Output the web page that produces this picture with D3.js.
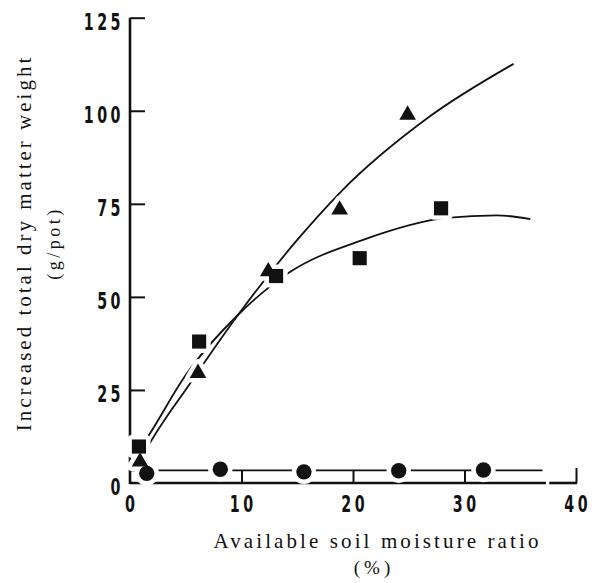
<!DOCTYPE html>
<html>
<head>
<meta charset="utf-8">
<script src="https://cdn.jsdelivr.net/npm/d3@7"></script>
<style>
  html, body { margin: 0; padding: 0; background: #fff; }
  svg { display: block; }
  .tick text { font-family: "DejaVu Sans", sans-serif; font-weight: bold; font-size: 23px; letter-spacing: 5.6px; fill: #111; }
  .title { font-family: "Liberation Serif", "DejaVu Serif", serif; fill: #111; }
</style>
</head>
<body>
<svg id="chart" width="592" height="583"></svg>
<script>
// ---- data ----
const xTicks = [0, 10, 20, 30, 40];
const yTicks = [0, 25, 50, 75, 100, 125];

// triangles
const triX = [0.9, 6.1, 12.4, 18.8, 24.9];
const triY = [5.7, 29.5, 56.8, 73.4, 98.9];
// squares
const sqX = [0.8, 6.2, 13.1, 20.6, 27.9];
const sqY = [9.8, 38.0, 55.6, 60.4, 73.8];
// circles
const cirX = [1.5, 8.1, 15.6, 24.1, 31.7];
const cirY = [2.6, 3.7, 3.0, 3.3, 3.5];

// fitted curves
const triFitX = [0.5, 1.35, 5.4, 9.7, 15.0, 18.8, 26.9, 34.4];
const triFitY = [3.5, 8.4, 26.8, 45.2, 65.3, 77.9, 98.5, 112.6];
const sqFitX = [0.5, 1.6, 5.0, 9.7, 14.2, 20.9, 28.4, 32.9, 35.9];
const sqFitY = [7.5, 12.4, 29.0, 45.2, 56.4, 65.3, 71.2, 71.9, 70.9];
const cirFitX = [0, 37];
const cirFitY = [3.4, 3.4];

const xTitle = "Available soil moisture ratio";
const xUnit = "(%)";
const yTitle = "Increased total dry matter weight";
const yUnit = "(g/pot)";

// ---- scales ----
const svg = d3.select("#chart");
const x = d3.scaleLinear().domain([0, 40]).range([130, 576]);
const y = d3.scaleLinear().domain([0, 125]).range([483, 17.7]);
const ink = "#111";
const squeeze = 0.62;

// ---- axes ----
const xAxis = d3.axisBottom(x).tickValues(xTicks).tickSizeInner(-12).tickSizeOuter(0).tickPadding(13);
const gx = svg.append("g").attr("transform", `translate(0,${y(0)})`).call(xAxis);
gx.select(".domain").remove();
gx.selectAll(".tick text").attr("transform", `scale(${squeeze},1)`).attr("dx", "2");
gx.selectAll(".tick line").attr("stroke", ink).attr("stroke-width", 2)
  .filter(d => d === 0).remove();
gx.selectAll(".tick").filter(d => d === 40).select("line").attr("y2", -15);

const yAxis = d3.axisLeft(y).tickValues(yTicks).tickSizeInner(-15).tickSizeOuter(0).tickPadding(10);
const gy = svg.append("g").attr("transform", `translate(${x(0)},0)`).call(yAxis);
gy.select(".domain").remove();
gy.selectAll(".tick line").attr("stroke", ink).attr("stroke-width", 2)
  .filter(d => d === 0).remove();
gy.selectAll(".tick text").attr("dy", "0.5em")
  .attr("transform", `scale(${squeeze},1)`).attr("x", -6 / squeeze);

// axis lines (x axis has a small break near 37)
svg.append("line").attr("x1", x(0)).attr("x2", x(0)).attr("y1", y(125)).attr("y2", y(0) + 1)
  .attr("stroke", ink).attr("stroke-width", 2.6);
svg.append("line").attr("x1", x(0)).attr("x2", x(37.3)).attr("y1", y(0)).attr("y2", y(0))
  .attr("stroke", ink).attr("stroke-width", 2.6);
svg.append("line").attr("x1", x(37.6)).attr("x2", x(40) + 1).attr("y1", y(0)).attr("y2", y(0))
  .attr("stroke", ink).attr("stroke-width", 2.6);

// ---- fitted lines ----
const line = d3.line().x(d => x(d[0])).y(d => y(d[1])).curve(d3.curveMonotoneX);
const fits = [
  d3.zip(triFitX, triFitY),
  d3.zip(sqFitX, sqFitY),
  d3.zip(cirFitX, cirFitY)
];
svg.append("g").selectAll("path").data(fits).join("path")
  .attr("d", line).attr("fill", "none").attr("stroke", ink).attr("stroke-width", 1.8);

// ---- markers ----
const tri = d3.zip(triX, triY), sq = d3.zip(sqX, sqY), cir = d3.zip(cirX, cirY);
const triSym = d3.symbol().type(d3.symbolTriangle).size(120);
const sqSym = d3.symbol().type(d3.symbolSquare).size(200);
const cirSym = d3.symbol().type(d3.symbolCircle).size(185);

function drawMarkers(g, halo) {
  const sets = [[tri, triSym], [cir, cirSym], [sq, sqSym]];
  sets.forEach(([pts, sym]) => {
    g.selectAll(null).data(pts).join("path")
      .attr("transform", d => `translate(${x(d[0])},${y(d[1])})`)
      .attr("d", sym)
      .attr("fill", halo ? "#fff" : ink)
      .attr("stroke", halo ? "#fff" : "none")
      .attr("stroke-width", halo ? 9 : 0)
      .attr("stroke-linejoin", "round");
  });
}
drawMarkers(svg.append("g"), true);
drawMarkers(svg.append("g"), false);

// ---- titles ----
svg.append("text").attr("class", "title")
  .attr("x", (213 + 542) / 2).attr("y", 548)
  .attr("text-anchor", "middle").attr("font-size", 21).attr("letter-spacing", 3.1)
  .text(xTitle);
svg.append("text").attr("class", "title")
  .attr("x", 374).attr("y", 574)
  .attr("text-anchor", "middle").attr("font-size", 19).attr("letter-spacing", 4)
  .text(xUnit);
svg.append("text").attr("class", "title")
  .attr("transform", "translate(31,243) rotate(-90)")
  .attr("text-anchor", "middle").attr("font-size", 21).attr("letter-spacing", 3)
  .text(yTitle);
svg.append("text").attr("class", "title")
  .attr("transform", "translate(60,243) rotate(-90)")
  .attr("text-anchor", "middle").attr("font-size", 18).attr("letter-spacing", 3.5)
  .text(yUnit);
</script>
</body>
</html>
